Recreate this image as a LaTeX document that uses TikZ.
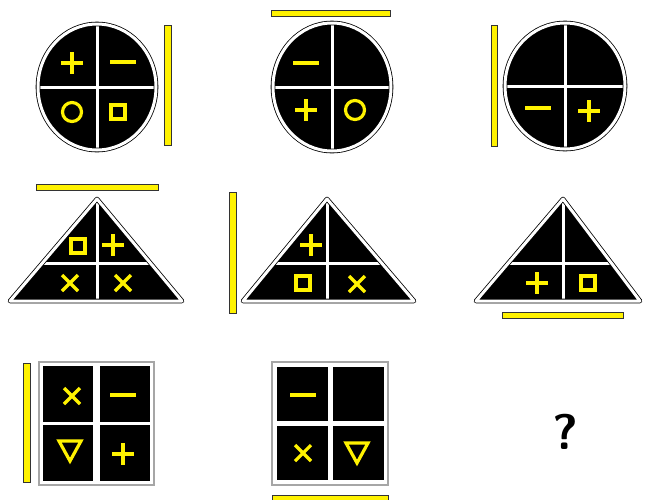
\documentclass[tikz,border=0pt]{standalone}
\usepackage{tikz}

% little yellow marks drawn inside the cells
\newcommand{\symplus}[1]{\draw[sym] (#1) ++(-11,0) -- ++(22,0) (#1) ++(0,-11) -- ++(0,22);}
\newcommand{\symminus}[1]{\draw[sym] (#1) ++(-13,0) -- ++(26,0);}
\newcommand{\symring}[1]{\draw[sym] (#1) circle [radius=9.5];}
\newcommand{\symbox}[1]{\draw[sym] (#1) ++(-7,-7) rectangle ++(14,14);}
\newcommand{\symcross}[1]{\draw[sym] (#1) ++(-8,-8) -- ++(16,16) (#1) ++(-8,8) -- ++(16,-16);}
\newcommand{\symtri}[1]{\draw[sym] (#1) ++(-11,-9) -- ++(22,0) -- ++(-11,20) -- cycle;}

\begin{document}
\begin{tikzpicture}[x=1pt, y=-1pt,
    sym/.style={draw=yellow, line width=3.2, line join=miter},
    rim/.style={draw=black, line width=0.8, double=white, double distance=3, line join=round},
    divider/.style={draw=white, line width=3},
    bar/.style={fill=yellow, draw=black!80, line width=0.8},
    frame/.style={draw=gray!70, line width=1.2},
    cell/.style={fill=black}]
    \useasboundingbox (0,0) rectangle (645,499);
    \fill[white] (0,0) rectangle (645,499);

    % Row 1: circles
    \foreach \cx/\cy/\rx/\ry in {97/87/59/63, 332/87/59/64, 565/86/60/63} {
        \begin{scope}
            \clip (\cx,\cy) ellipse [x radius=\rx, y radius=\ry];
            \fill[black] (\cx-70,\cy-70) rectangle (\cx+70,\cy+70);
            \draw[divider] (\cx-70,\cy) -- (\cx+70,\cy) (\cx,\cy-70) -- (\cx,\cy+70);
        \end{scope}
        \draw[rim] (\cx,\cy) ellipse [x radius=\rx, y radius=\ry];
    }
    \symplus{72,63}  \symminus{123,62}
    \symring{72,112} \symbox{118,112}
    \symminus{306,63}
    \symplus{306,110} \symring{355,110}
    \symminus{538,108} \symplus{589,111}

    % bars beside the circles
    \draw[bar] (164,25) rectangle (171,145);
    \draw[bar] (271,10) rectangle (390,16);
    \draw[bar] (491,25) rectangle (497,146);

    % Row 2: triangles
    \foreach \ax/\lx/\rx in {97/10/182, 327/243/414, 563/476/640} {
        \begin{scope}
            \clip (\ax,199) -- (\lx,301) -- (\rx,301) -- cycle;
            \fill[black] (\lx-5,190) rectangle (\rx+5,310);
            \draw[divider] (\lx-5,263) -- (\rx+5,263) (\ax,190) -- (\ax,310);
        \end{scope}
        \draw[rim] (\ax,199) -- (\lx,301) -- (\rx,301) -- cycle;
    }
    \symbox{78,246}    \symplus{113,245}
    \symcross{70,283}  \symcross{123,283}
    \symplus{311,245}
    \symbox{303,283}   \symcross{357,284}
    \symplus{537,283}  \symbox{588,283}

    % bars beside the triangles
    \draw[bar] (36,184) rectangle (158,190);
    \draw[bar] (229,192) rectangle (236,313);
    \draw[bar] (502,312) rectangle (623,318);

    % Row 3: squares
    \draw[frame] (39,362) rectangle (154,485);
    \foreach \x/\y in {43/366, 100/366, 43/425, 100/425} {
        \fill[cell] (\x,\y) rectangle ++(50,56);
    }
    \symcross{72,396}  \symminus{123,395}
    \symtri{70,450}    \symplus{123,454}

    \draw[frame] (272,362) rectangle (388,485);
    \foreach \x/\y in {277/367, 333/367, 277/426, 333/426} {
        \fill[cell] (\x,\y) rectangle ++(51,54);
    }
    \symminus{303,395}
    \symcross{303,453} \symtri{357,452}

    % bars beside the squares
    \draw[bar] (23,363) rectangle (30,482);
    \draw[bar] (272,495) rectangle (388,505);

    % the missing one
    \node[font=\sffamily\bfseries\fontsize{50}{50}\selectfont] (query) at (565,432) {?};
\end{tikzpicture}
\end{document}
